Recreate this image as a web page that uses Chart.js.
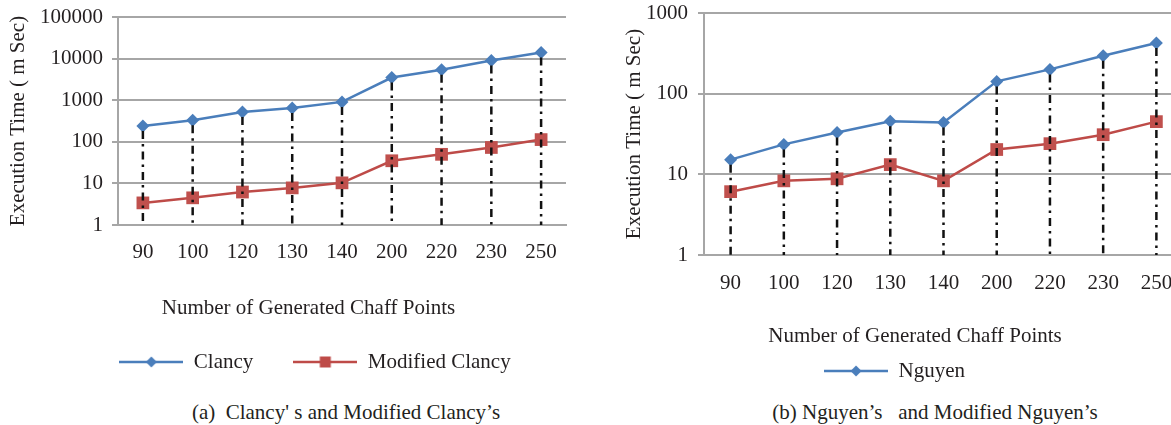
<!DOCTYPE html>
<html lang="en">
<head>
<meta charset="UTF-8" />
<title>Execution time vs generated chaff points</title>
<style>
  * { margin: 0; padding: 0; box-sizing: border-box; }
  html, body { width: 1171px; height: 425px; overflow: hidden; background: #fff; }
  body { position: relative; font-family: "Liberation Serif", serif; color: #231f20; }
  canvas { position: absolute; top: 0; }
  #chartA { left: 0; }
  #chartB { left: 613px; }
  .caption {
    position: absolute; top: 400px; font-size: 21px; line-height: 24px;
    white-space: pre; transform: translateX(-50%);
  }
</style>
</head>
<body>
<canvas id="chartA" width="617" height="400"></canvas>
<canvas id="chartB" width="604" height="390"></canvas>
<div class="caption" style="left:346px">(a)  Clancy' s and Modified Clancy’s</div>
<div class="caption" style="left:935px">(b) Nguyen’s   and Modified Nguyen’s</div>

<script src="https://cdn.jsdelivr.net/npm/chart.js"></script>
<script>
// values (execution time in ms, log scale)
const chaffPoints = ["90", "100", "120", "130", "140", "200", "220", "230", "250"];
const clancy = [240, 330, 520, 650, 910, 3500, 5400, 9000, 14000];
const modClancy = [3.4, 4.5, 6.2, 7.8, 10.3, 35, 50, 73, 113];
const nguyen = [15.2, 23.5, 33, 45.5, 44, 142, 200, 295, 425];
const modNguyen = [6.1, 8.3, 8.8, 13.2, 8.3, 20.3, 24, 31, 45];
const ticksA = [1, 10, 100, 1000, 10000, 100000];
const ticksB = [1, 10, 100, 1000];

const GREY = "#a6a6a6";
const TEXT = "#231f20";
const BLUE = "#4a7ebb";
const RED_LINE = "#be4b48";
const RED = "#c0504d";
const FONT = { family: "Liberation Serif", size: 21 };

Chart.defaults.font.family = FONT.family;
Chart.defaults.font.size = FONT.size;
Chart.defaults.color = TEXT;

// line + marker picture for the legend, like the office style legend
function legendIcon(color, shape) {
  const c = document.createElement("canvas");
  c.width = 64;
  c.height = 14;
  const g = c.getContext("2d");
  g.strokeStyle = color;
  g.lineWidth = 2.5;
  g.beginPath();
  g.moveTo(0, 7);
  g.lineTo(64, 7);
  g.stroke();
  g.fillStyle = color;
  g.beginPath();
  if (shape === "diamond") {
    g.moveTo(32, 1.5);
    g.lineTo(37.5, 7);
    g.lineTo(32, 12.5);
    g.lineTo(26.5, 7);
    g.closePath();
  } else {
    g.rect(26.5, 1.5, 11, 11);
  }
  g.fill();
  return c;
}

function series(label, data, lineColor, markColor, style, radius) {
  return {
    label,
    data,
    borderColor: lineColor,
    backgroundColor: markColor,
    borderWidth: 2.5,
    tension: 0,
    pointStyle: style,
    pointRadius: radius,
    pointBackgroundColor: markColor,
    pointBorderColor: markColor,
    pointBorderWidth: 0,
    clip: false,
  };
}

// black dash-dot drop lines from the upper series down to the axis
const dropLines = {
  id: "dropLines",
  afterDatasetsDraw(chart) {
    const { ctx, chartArea: { bottom } } = chart;
    const meta = chart.getDatasetMeta(0);
    ctx.save();
    ctx.strokeStyle = "#111";
    ctx.lineWidth = 2.5;
    ctx.setLineDash([8, 5, 2.5, 5]);
    meta.data.forEach((pt) => {
      ctx.beginPath();
      ctx.moveTo(pt.x, pt.y + 5);
      ctx.lineTo(pt.x, bottom);
      ctx.stroke();
    });
    ctx.restore();
  },
};

// moves the bottom title / legend to where the figure has them
const boxPlace = {
  id: "boxPlace",
  afterUpdate(chart, args, opts) {
    const t = chart.titleBlock;
    if (t && opts.titleX != null) {
      const d = opts.titleX - (t.left + t.right) / 2;
      t.left += d;
      t.right += d;
    }
    const lg = chart.legend;
    if (lg && opts.legendX != null) {
      const dx = opts.legendX - (lg.left + lg.right) / 2;
      const dy = opts.legendY - (lg.top + lg.options.labels.padding + FONT.size / 2);
      lg.left += dx;
      lg.right += dx;
      lg.top += dy;
      lg.bottom += dy;
    }
  },
};

function options(p) {
  return {
    responsive: false,
    animation: false,
    events: [],
    layout: { padding: p.padding },
    scales: {
      x: {
        type: "category",
        offset: true,
        grid: { display: false, drawTicks: false },
        border: { display: true, color: GREY, width: 2 },
        ticks: { padding: p.xPad, font: FONT, color: TEXT },
        afterFit: (s) => { s.height = p.xHeight; },
      },
      y: {
        type: "logarithmic",
        min: 1,
        max: p.yTicks[p.yTicks.length - 1],
        afterBuildTicks: (s) => { s.ticks = p.yTicks.map((v) => ({ value: v })); },
        afterFit: (s) => {
          s.width = p.yWidth;
          s.paddingTop = 0;
          s.paddingBottom = 0;
        },
        grid: { color: GREY, lineWidth: 2, tickLength: 6, drawTicks: true },
        border: { color: GREY, width: 2 },
        ticks: { padding: p.yPad, font: FONT, color: TEXT, callback: (v) => String(v) },
        title: {
          display: true,
          text: "Execution Time ( m Sec)",
          font: FONT,
          color: TEXT,
          padding: { top: p.yTitlePad, bottom: 0 },
        },
      },
    },
    plugins: {
      tooltip: { enabled: false },
      title: {
        display: true,
        text: "Number of Generated Chaff Points",
        position: "bottom",
        weight: 500,
        font: { ...FONT, weight: "normal" },
        color: TEXT,
        padding: { top: p.titlePad, bottom: 0 },
      },
      legend: {
        position: "bottom",
        labels: {
          usePointStyle: true,
          pointStyleWidth: 64,
          padding: p.legendPad,
          font: FONT,
          color: TEXT,
          generateLabels: (chart) =>
            Chart.defaults.plugins.legend.labels.generateLabels(chart).map((item) =>
              Object.assign(item, { pointStyle: p.icons[item.datasetIndex] })),
          filter: (item) => item.datasetIndex < p.icons.length,
        },
      },
      boxPlace: p.place,
    },
  };
}

new Chart(document.getElementById("chartA"), {
  type: "line",
  data: {
    labels: chaffPoints,
    datasets: [
      series("Clancy", clancy, BLUE, BLUE, "rectRot", 6.5),
      series("Modified Clancy", modClancy, RED_LINE, RED, "rect", 9),
    ],
  },
  options: options({
    padding: { top: 17, right: 51, bottom: 8.4, left: 0 },
    xPad: 15, xHeight: 38,
    yTicks: ticksA, yWidth: 118, yPad: 9, yTitlePad: 5.4,
    titlePad: 32.4, legendPad: 40,
    icons: [legendIcon(BLUE, "diamond"), legendIcon(RED_LINE, "square")],
    place: { titleX: 308.5, legendX: 315, legendY: 362 },
  }),
  plugins: [dropLines, boxPlace],
});

new Chart(document.getElementById("chartB"), {
  type: "line",
  data: {
    labels: chaffPoints,
    datasets: [
      series("Nguyen", nguyen, BLUE, BLUE, "rectRot", 6.5),
      series("Modified Nguyen", modNguyen, RED_LINE, RED, "rect", 9),
    ],
  },
  options: options({
    padding: { top: 13, right: 34, bottom: 0.4, left: 0 },
    xPad: 16, xHeight: 40,
    yTicks: ticksB, yWidth: 91, yPad: 10, yTitlePad: 8.4,
    titlePad: 28.4, legendPad: 10,
    icons: [legendIcon(BLUE, "diamond")],
    place: { titleX: 302, legendX: 281.5, legendY: 371 },
  }),
  plugins: [dropLines, boxPlace],
});
</script>
</body>
</html>
